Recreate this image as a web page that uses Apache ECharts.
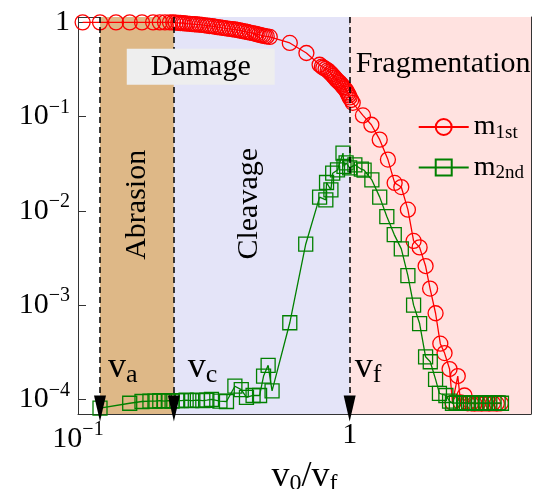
<!DOCTYPE html>
<html>
<head>
<meta charset="utf-8">
<script src="https://cdn.jsdelivr.net/npm/echarts@6/dist/echarts.min.js"></script>
<style>
    html, body { margin: 0; padding: 0; background: #fff; }
    #chart { width: 535px; height: 489px; }
</style>
</head>
<body>
<div id="chart"></div>
<script>
// m_1st
const firstX = [0.104, 0.1205, 0.138, 0.155, 0.172, 0.189, 0.200, 0.209, 0.218, 0.224,
    0.229, 0.234, 0.238, 0.243, 0.247, 0.252, 0.258, 0.263, 0.269, 0.274, 0.280, 0.286, 0.293, 0.299, 0.305, 0.312, 0.319, 0.326, 0.333,
    0.340, 0.347, 0.354, 0.362, 0.370, 0.378, 0.386, 0.394, 0.402, 0.411, 0.420, 0.429, 0.438, 0.448, 0.455, 0.463, 0.471, 0.479, 0.487, 0.495, 0.508,
    0.602, 0.693, 0.775, 0.79, 0.80, 0.815, 0.83, 0.84, 0.85, 0.86, 0.87, 0.88, 0.89, 0.90, 0.91, 0.92, 0.93, 0.94, 0.95, 0.96, 0.97, 0.978, 0.985, 0.993, 1.0, 1.013, 1.026,
    1.119, 1.202, 1.29, 1.383, 1.464, 1.549, 1.638, 1.719, 1.809, 1.903, 1.977, 2.071, 2.156, 2.235, 2.332, 2.39, 2.50, 2.56, 2.647,
    2.72, 2.80, 2.88, 2.97, 3.06, 3.16, 3.26, 3.37, 3.48, 3.6]
const firstY = [1, 1, 1, 1, 1, 1, 1, 1, 1, 1,
    0.995, 0.99, 0.985, 0.98, 0.975, 0.97, 0.965, 0.96, 0.955, 0.95, 0.945, 0.94, 0.93, 0.925, 0.915, 0.91, 0.9, 0.89, 0.885,
    0.875, 0.87, 0.86, 0.855, 0.845, 0.84, 0.83, 0.82, 0.81, 0.80, 0.79, 0.78, 0.77, 0.76, 0.75, 0.74, 0.73, 0.725, 0.715, 0.71, 0.70,
    0.605, 0.473, 0.355, 0.34, 0.33, 0.32, 0.31, 0.30, 0.29, 0.28, 0.27, 0.26, 0.25, 0.242, 0.235, 0.228, 0.22, 0.212, 0.205, 0.198, 0.19, 0.182, 0.175, 0.168, 0.16, 0.15, 0.14,
    0.103, 0.082, 0.057, 0.035, 0.0198, 0.0179, 0.0103, 0.0048, 0.0041, 0.0026, 0.0015, 0.00082, 0.00039, 0.00031, 0.00021, 0.000092, 0.000177, 0.000093, 0.00011,
    0.000091, 0.000091, 0.00009, 0.000091, 0.00009, 0.000091, 0.00009, 0.000091, 0.00009, 0.000091]

// m_2nd
const secondX = [0.1205, 0.155, 0.172, 0.184, 0.192, 0.200, 0.208, 0.215, 0.222, 0.231, 0.240, 0.250, 0.262, 0.275, 0.288, 0.298,
    0.31, 0.333, 0.352, 0.378, 0.399, 0.417, 0.441, 0.466, 0.482, 0.501, 0.518, 0.602, 0.689,
    0.775, 0.817, 0.822, 0.853, 0.866, 0.902, 0.945, 0.953, 0.97, 1.0, 1.045, 1.104, 1.13, 1.207,
    1.29, 1.37, 1.459, 1.549, 1.638, 1.719, 1.809, 1.903, 1.98, 2.071, 2.14, 2.26, 2.332, 2.39,
    2.47, 2.56, 2.65, 2.74, 2.84, 2.94, 3.05, 3.16, 3.28, 3.4, 3.52, 3.62]
const secondY = [8.1e-5, 9.1e-5, 9.5e-5, 9.6e-5, 9.6e-5, 9.7e-5, 9.6e-5, 9.7e-5, 9.6e-5, 9.7e-5, 9.7e-5, 9.8e-5, 9.7e-5, 9.8e-5, 9.7e-5, 9.8e-5,
    1.0e-4, 9.6e-5, 9.5e-5, 1.38e-4, 1.27e-4, 1.05e-4, 1.1e-4, 1.1e-4, 1.77e-4, 2.3e-4, 1.23e-4, 6.5e-4, 4.43e-3,
    0.014, 0.0131, 0.020, 0.0167, 0.0251, 0.0272, 0.041, 0.0296, 0.0323, 0.0286, 0.0308, 0.0277, 0.027, 0.0213,
    0.014, 0.0087, 0.0056, 0.00395, 0.00206, 0.001, 0.000638, 0.000283, 0.000251, 0.000163, 0.000116, 0.00011, 9.6e-5, 9.1e-5,
    9.2e-5, 9.1e-5, 9.2e-5, 9.1e-5, 9.2e-5, 9.1e-5, 9.2e-5, 9.1e-5, 9.2e-5, 9.1e-5, 9.2e-5, 9.1e-5]

const xRange = [0.1, 4.65]
const yRange = [7e-5, 1.14]
const xMajor = [0.1, 1]
const xMinor = [0.2, 0.3, 0.4, 0.5, 0.6, 0.7, 0.8, 0.9, 2, 3, 4]
const yMajor = [1e-4, 1e-3, 1e-2, 1e-1, 1]

// v_a, v_c, v_f
const edges = [0.1205, 0.2254, 1]
const edgeNames = ['a', 'c', 'f']
const arrowTipY = 8e-5

// label anchors (data coords)
const damageAt = [0.283, 0.338]
const fragAt = [1.052, 0.364]
const abrasionAt = [0.1648, 0.0116]
const cleavageAt = [0.4253, 0.0119]
const edgeLabelX = [0.1289, 0.2537, 1.043]
const edgeLabelY = 2.2e-4

const serif = "'Liberation Serif', 'DejaVu Serif', serif"

function powLabel(v) {
    const e = Math.round(Math.log10(v))
    if (e === 0) return '{b|1}'
    return '{b|10}{e|' + String(e).replace('-', '\u2212') + '}'
}
const tickRich = {
    b: { fontSize: 30, fontFamily: serif, color: '#000' },
    e: { fontSize: 20, fontFamily: serif, color: '#000', padding: [0, 0, 18, 0] }
}

function xAxisOf(position, values, len, labels) {
    return {
        type: 'log', logBase: 10, position: position, gridIndex: 0,
        min: xRange[0], max: xRange[1],
        axisLine: { show: labels !== null, lineStyle: { color: '#333', width: 1 } },
        axisTick: { show: true, inside: true, length: len, customValues: values, lineStyle: { color: '#333' } },
        axisLabel: labels ? { show: true, customValues: xMajor, formatter: powLabel, rich: tickRich, margin: 6 } : { show: false },
        splitLine: { show: false }
    }
}

let chart = echarts.init(document.getElementById('chart'))

const xAxes = [
    xAxisOf('bottom', xMajor, 8, true),
    xAxisOf('bottom', xMinor, 4, null),
    xAxisOf('top', xMajor, 8, false),
    xAxisOf('top', xMinor, 4, null)
]
xAxes[0].name = '{v|v}{s|0}{v|/v}{s|f}'
xAxes[0].nameLocation = 'middle'
xAxes[0].nameGap = 28
xAxes[0].nameTextStyle = {
    rich: {
        v: { fontSize: 36, fontFamily: serif, color: '#000' },
        s: { fontSize: 24, fontFamily: serif, color: '#000', padding: [14, 0, 0, 0] }
    }
}

const yAxes = ['left', 'right'].map((pos, i) => ({
    type: 'log', logBase: 10, position: pos, gridIndex: 0,
    min: yRange[0], max: yRange[1],
    axisLine: { show: true, lineStyle: { color: '#333', width: 1 } },
    axisTick: { show: true, inside: true, length: 8, customValues: yMajor, lineStyle: { color: '#333' } },
    axisLabel: i === 0 ? { show: true, customValues: yMajor, formatter: powLabel, rich: tickRich, margin: 8 } : { show: false },
    splitLine: { show: false }
}))

let option = {
    animation: false,
    backgroundColor: '#fff',
    grid: { left: 78, right: 4, top: 17, bottom: 75, containLabel: false, outerBoundsMode: 'none' },
    xAxis: xAxes,
    yAxis: yAxes,
    legend: {
        orient: 'vertical', right: 6, top: 108,
        itemWidth: 50, itemHeight: 20, itemGap: 11,
        data: ['m1st', 'm2nd'],
        formatter: name => '{m|m}{s|' + name.slice(1) + '}',
        textStyle: {
            rich: {
                m: { fontSize: 28, fontFamily: serif, color: '#000' },
                s: { fontSize: 19, fontFamily: serif, color: '#000', padding: [12, 0, 0, 0] }
            }
        }
    },
    series: [
        {
            name: 'm1st', type: 'line', xAxisIndex: 0, yAxisIndex: 0,
            data: firstX.map((x, i) => [x, firstY[i]]),
            symbol: 'circle', symbolSize: 15,
            itemStyle: { color: 'rgba(0,0,0,0)', borderColor: '#ff0000', borderWidth: 1.3 },
            lineStyle: { color: '#ff0000', width: 1.3 },
            z: 3,
            markArea: {
                silent: true,
                data: [
                    [{ xAxis: edges[0], itemStyle: { color: '#deb887' } }, { xAxis: edges[1] }],
                    [{ xAxis: edges[1], itemStyle: { color: '#e4e4f8' } }, { xAxis: edges[2] }],
                    [{ xAxis: edges[2], itemStyle: { color: '#ffe2e0' } }, { xAxis: xRange[1] }]
                ]
            },
            markLine: {
                silent: true,
                symbol: ['none', 'triangle'],
                symbolSize: [12, 26],
                label: { show: false },
                lineStyle: { color: '#000', type: [6, 4], width: 1.5 },
                data: edges.map(x => [{ coord: [x, yRange[1]] }, { coord: [x, arrowTipY] }])
            }
        },
        {
            name: 'm2nd', type: 'line', xAxisIndex: 0, yAxisIndex: 0,
            data: secondX.map((x, i) => [x, secondY[i]]),
            symbol: 'rect', symbolSize: 14,
            itemStyle: { color: 'rgba(0,0,0,0)', borderColor: '#008000', borderWidth: 1.3 },
            lineStyle: { color: '#008000', width: 1.3 },
            z: 4
        }
    ]
}
chart.setOption(option)

// text annotations placed through the axes
const px = p => chart.convertToPixel({ xAxisIndex: 0, yAxisIndex: 0 }, p)
const bigFont = { fontSize: 30, fontFamily: serif, fill: '#000' }
let texts = []
let d = px(damageAt)
texts.push({ type: 'text', x: d[0], y: d[1], z: 10, style: Object.assign({ text: 'Damage', align: 'center', verticalAlign: 'middle', backgroundColor: '#eeeeee', padding: [4, 24, 2, 24] }, bigFont) })
let f = px(fragAt)
texts.push({ type: 'text', x: f[0], y: f[1], z: 10, style: Object.assign({ text: 'Fragmentation', align: 'left', verticalAlign: 'middle' }, bigFont) })
let a = px(abrasionAt)
texts.push({ type: 'text', x: a[0], y: a[1], rotation: Math.PI / 2, z: 10, style: Object.assign({ text: 'Abrasion', align: 'center', verticalAlign: 'middle' }, bigFont) })
let c = px(cleavageAt)
texts.push({ type: 'text', x: c[0], y: c[1], rotation: Math.PI / 2, z: 10, style: Object.assign({ text: 'Cleavage', align: 'center', verticalAlign: 'middle' }, bigFont) })
edgeNames.forEach((n, i) => {
    let p = px([edgeLabelX[i], edgeLabelY])
    texts.push({
        type: 'text', x: p[0], y: p[1], z: 10,
        style: {
            text: '{v|v}{s|' + n + '}', align: 'left', verticalAlign: 'middle',
            rich: {
                v: { fontSize: 36, fontFamily: serif, fill: '#000' },
                s: { fontSize: 26, fontFamily: serif, fill: '#000', padding: [16, 0, 0, 0] }
            }
        }
    })
})
chart.setOption({ graphic: texts })
</script>
</body>
</html>
